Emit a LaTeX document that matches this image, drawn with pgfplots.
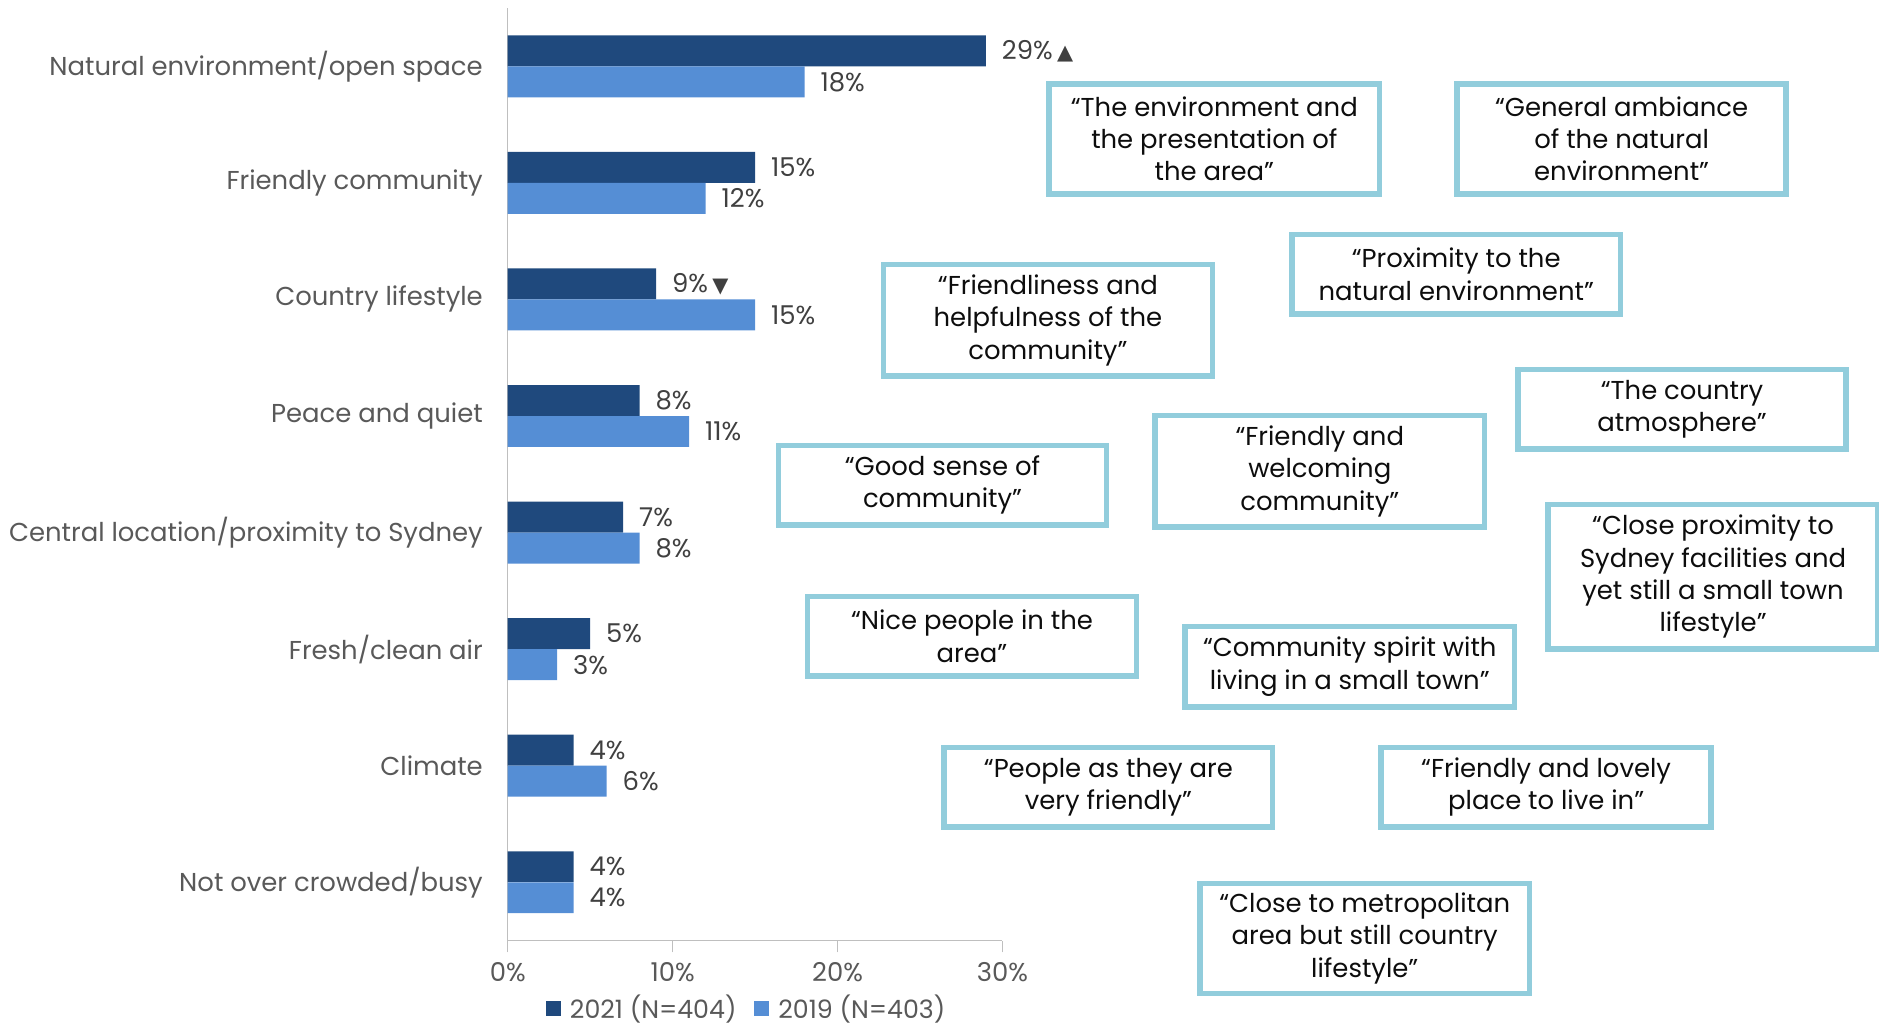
\documentclass[border=0pt]{standalone}
\usepackage{pgfplots}
\pgfplotsset{compat=1.18}
\usepackage{fontspec}
\setmainfont{Poppins}
\newfontfamily\sym{DejaVu Sans}
\definecolor{dark}{RGB}{31,73,125}
\definecolor{light}{RGB}{85,142,213}
\definecolor{boxc}{RGB}{146,205,220}
\definecolor{axisgray}{RGB}{191,191,191}
\definecolor{labgray}{RGB}{89,89,89}
\definecolor{valgray}{RGB}{64,64,64}
\definecolor{quote}{RGB}{13,13,13}
\newcommand\fs{\fontsize{13}{16.2}\selectfont}
\newcommand\fl{\fontsize{12.7}{15}\selectfont}
\newcommand\up{{\sym\fontsize{10.5}{12}\selectfont ▲}}
\newcommand\down{{\sym\fontsize{10.5}{12}\selectfont ▼}}
\newcommand\qbox[5]{%
  \draw[boxc, line width=2.8bp] (#1+1.8,#2+0.8) rectangle (#3-3.8,#4-4.8);
  \node[align=center, font=\fs, text=quote, inner sep=0pt] at ({(#1+#3)/2-1},{(#2+#4)/2-2}) {#5};}
\begin{document}
\begin{tikzpicture}
\useasboundingbox (0,0) rectangle (940bp,-513bp);
\begin{scope}[overlay]
\begin{axis}[
  at={(254bp,-470.5bp)}, anchor=south west,
  scale only axis, width=247.5bp, height=466.5bp,
  xmin=0, xmax=30, ymin=-0.5, ymax=7.5, y dir=reverse,
  axis x line*=bottom, axis y line*=left,
  axis line style={-, draw=axisgray, line width=0.75pt},
  xtick={0,10,20,30}, xticklabels={0\%,10\%,20\%,30\%},
  xtick align=outside, major tick length=6pt,
  xtick style={draw=axisgray, line width=0.75pt},
  xticklabel style={font=\fs, text=labgray, yshift=-1.5pt},
  ytick={0,1,2,3,4,5,6,7},
  yticklabels={Natural environment/open space, Friendly community, Country lifestyle, Peace and quiet, Central location/proximity to Sydney, Fresh/clean air, Climate, Not over crowded/busy},
  ytick style={draw=none},
  yticklabel style={font=\fs, text=labgray, anchor=east, xshift=-3pt},
  xbar, bar width=0.265,
  nodes near coords, point meta=explicit symbolic,
  every node near coord/.append style={anchor=west, font=\fs, text=valgray, xshift=4.5pt},
  legend style={at={(0.485,0)}, anchor=center, yshift=-34pt, draw=none, fill=none,
    inner sep=1pt, legend columns=2, font=\fl, text=labgray,
    /tikz/every even column/.append style={column sep=7pt},
    /tikz/every odd column/.append style={column sep=2.5pt}},
  legend image code/.code={\fill[#1,/tikz/.cd,draw=none] (0bp,-3.75bp) rectangle (7.5bp,3.75bp);},
]
\addplot[fill=dark, draw=none, bar shift=-0.133] coordinates {
 (29,0) [29\%\,\up] (15,1) [15\%] (9,2) [9\%\,\down] (8,3) [8\%]
 (7,4) [7\%] (5,5) [5\%] (4,6) [4\%] (4,7) [4\%]};
\addplot[fill=light, draw=none, bar shift=0.133] coordinates {
 (18,0) [18\%] (12,1) [12\%] (15,2) [15\%] (11,3) [11\%]
 (8,4) [8\%] (3,5) [3\%] (6,6) [6\%] (4,7) [4\%]};
\legend{2021 (N=404), 2019 (N=403)}
\end{axis}
\end{scope}
\begin{scope}[x=0.5bp, y=-0.5bp, overlay]
\qbox{1048}{83}{1384}{199}{“The environment and\\the presentation of\\the area”}
\qbox{1456}{83}{1791}{199}{“General ambiance\\of the natural\\environment”}
\qbox{1291}{234}{1625}{319}{“Proximity to the\\natural environment”}
\qbox{882}{264}{1217}{381}{“Friendliness and\\helpfulness of the\\community”}
\qbox{1517}{369}{1851}{454}{“The country\\atmosphere”}
\qbox{1154}{415}{1489}{532}{“Friendly and\\welcoming\\community”}
\qbox{777}{445}{1111}{530}{“Good sense of\\community”}
\qbox{1547}{504}{1883}{654}{“Close proximity to\\Sydney facilities and\\yet still a small town\\lifestyle”}
\qbox{806}{596}{1141}{681}{“Nice people in the\\area”}
\qbox{1184}{626}{1519}{712}{“Community spirit with\\living in a small town”}
\qbox{943}{747}{1277}{832}{“People as they are\\very friendly”}
\qbox{1380}{747}{1716}{832}{“Friendly and lovely\\place to live in”}
\qbox{1199}{883}{1534}{999}{“Close to metropolitan\\area but still country\\lifestyle”}
\end{scope}
\end{tikzpicture}
\end{document}
